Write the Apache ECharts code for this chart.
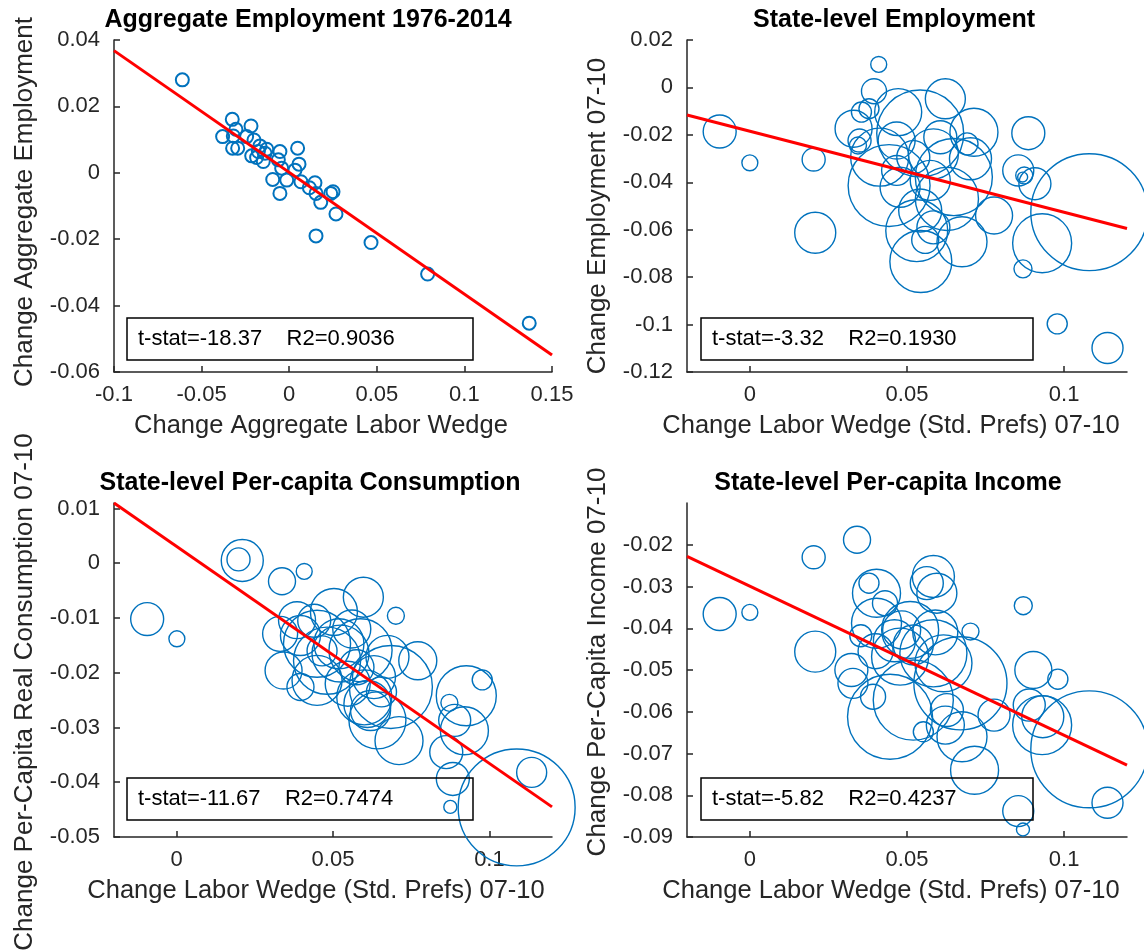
<!DOCTYPE html>
<html>
<head>
<meta charset="utf-8">
<title>Labor wedge panels</title>
<script src="https://cdn.jsdelivr.net/npm/echarts@6.0.0/dist/echarts.min.js"></script>
<style>
html, body { margin: 0; padding: 0; background: #fff; }
#main { width: 1144px; height: 952px; }
</style>
</head>
<body>
<div id="main"></div>
<script>
// panel 1: aggregate yearly changes 1976-2014
var aggWedge = [-0.061, 0.137, 0.079, 0.0467, 0.0153, 0.0267, 0.018, 0.025, 0.0237, 0.0147,
  0.0153, 0.0115, 0.0048, 0.0056, 0.0033, -0.0053, -0.0062, -0.0043, -0.0094, -0.0014,
  -0.0053, 0.0067, -0.0325, -0.0218, -0.0304, -0.038, -0.0319, -0.0243, -0.0323, -0.0294,
  -0.0201, -0.0167, -0.0128, -0.0214, -0.0186, -0.0148, -0.0176, -0.0138];
var aggEmp = [0.028, -0.0453, -0.0305, -0.021, -0.019, -0.0124, -0.0089, -0.0057, -0.0062, -0.003,
  -0.0062, -0.0045, 0.0074, 0.0026, 0.0008, 0.0064, 0.0039, 0.0014, -0.002, -0.0022,
  -0.0062, -0.0027, 0.0161, 0.0141, 0.0131, 0.0109, 0.0111, 0.0109, 0.0074, 0.0074,
  0.0099, 0.0081, 0.0071, 0.0051, 0.0046, 0.0034, 0.0064, 0.0059];

// panel 2: state employment 07-10 (weight = population, millions)
var empWedge = [0.041, -0.0096, 0, 0.0203, 0.0208, 0.0886, 0.0978, 0.1138, 0.0869, 0.108,
  0.093, 0.0907, 0.0854, 0.0873, 0.0868, 0.0395, 0.0379, 0.033, 0.0349, 0.0344,
  0.0472, 0.0622, 0.0542, 0.0713, 0.0691, 0.0443, 0.0413, 0.0649, 0.0531, 0.0544,
  0.0558, 0.0675, 0.0777, 0.0702, 0.0574, 0.0627, 0.0478, 0.052, 0.0606, 0.0584,
  0.0467, 0.0355, 0.0542, 0.0584, 0.0467];
var empChange = [0.0097, -0.0186, -0.0318, -0.0304, -0.0613, -0.0193, -0.0997, -0.1099, -0.0765, -0.0526,
  -0.0657, -0.0406, -0.035, -0.0371, -0.0378, -0.0016, -0.009, -0.0174, -0.0224, -0.0245,
  -0.0104, -0.0048, -0.0194, -0.0189, -0.0238, -0.0414, -0.0294, -0.0378, -0.0604, -0.0734,
  -0.0643, -0.0651, -0.054, -0.0301, -0.0392, -0.047, -0.0421, -0.0294, -0.021, -0.028,
  -0.035, -0.0104, -0.0519, -0.059, -0.0224];
var empWeight = [0.69, 2.95, 0.69, 1.44, 4.56, 2.95, 1.09, 2.61, 0.88, 37.1,
  9.44, 2.78, 2.61, 0.78, 0.27, 1.7, 1.09, 3.71, 1.44, 0.78,
  5.99, 4.34, 20.5, 6.25, 1.31, 18.2, 9.13, 16.1, 10.4, 10.4,
  1.98, 6.78, 3.71, 4.79, 4.34, 10.8, 4.34, 2.95, 2.95, 6.78,
  2.44, 1.09, 5.02, 2.95, 3.71];

// panel 3: state per-capita real consumption 07-10
var conWedge = [-0.0094, 0.0001, 0.021, 0.0198, 0.0337, 0.0408, 0.0701, 0.0597, 0.0503, 0.0396,
  0.0331, 0.0342, 0.0396, 0.0449, 0.0449, 0.0519, 0.0524, 0.0588, 0.0674, 0.0771,
  0.0685, 0.0631, 0.061, 0.062, 0.0642, 0.0711, 0.0926, 0.0977, 0.0872, 0.092,
  0.0862, 0.0883, 0.0875, 0.1135, 0.1087, 0.0385, 0.0481, 0.0889, 0.0547, 0.056,
  0.0465, 0.0575, 0.0655, 0.044, 0.06];
var conChange = [-0.0102, -0.0138, 0.0005, 0.0007, -0.0033, -0.0015, -0.0096, -0.0062, -0.0089, -0.0132,
  -0.0129, -0.0196, -0.0226, -0.0214, -0.0147, -0.0147, -0.0165, -0.0159, -0.0171, -0.0178,
  -0.0226, -0.0208, -0.0257, -0.0269, -0.0287, -0.0324, -0.0242, -0.0213, -0.0255, -0.0306,
  -0.0345, -0.0394, -0.0445, -0.0382, -0.0446, -0.0104, -0.0178, -0.0287, -0.022, -0.012,
  -0.016, -0.019, -0.0235, -0.0105, -0.0245];
var conWeight = [2.95, 0.69, 4.79, 1.44, 1.98, 0.69, 0.78, 4.34, 5.99, 4.34,
  3.32, 3.71, 1.98, 6.78, 12.2, 6.78, 8.81, 10.8, 5.02, 3.92,
  18.7, 5.02, 5.99, 4.34, 8.81, 6.25, 9.77, 1.09, 0.78, 6.25,
  2.95, 2.95, 0.46, 2.44, 37.1, 3.71, 12.2, 2.78, 5.49, 3.92,
  2.44, 3.32, 2.44, 2.95, 8.2];

// panel 4: state per-capita income 07-10
var incWedge = [-0.0096, 0, 0.0203, 0.0341, 0.0208, 0.087, 0.098, 0.1138, 0.0854, 0.0869,
  0.108, 0.093, 0.0902, 0.0889, 0.0932, 0.0777, 0.0715, 0.0702, 0.0584, 0.0595,
  0.0403, 0.0379, 0.043, 0.0403, 0.0353, 0.0323, 0.0328, 0.0392, 0.0446, 0.0483,
  0.051, 0.0478, 0.0584, 0.0616, 0.067, 0.0627, 0.0622, 0.0552, 0.0675, 0.0563,
  0.059, 0.052, 0.046, 0.04, 0.052];
var incChange = [-0.0366, -0.0362, -0.023, -0.0188, -0.0456, -0.0346, -0.0522, -0.0818, -0.0838, -0.0882,
  -0.069, -0.0632, -0.05, -0.0584, -0.0612, -0.0608, -0.074, -0.0408, -0.0276, -0.0316,
  -0.0316, -0.0292, -0.034, -0.0388, -0.0418, -0.05, -0.0532, -0.0564, -0.0612, -0.0404,
  -0.0404, -0.0468, -0.046, -0.0484, -0.0532, -0.0596, -0.0632, -0.0648, -0.066, -0.0292,
  -0.041, -0.044, -0.043, -0.0455, -0.0572];
var incWeight = [2.95, 0.69, 1.44, 1.98, 4.56, 0.88, 1.09, 2.61, 2.61, 0.46,
  37.1, 9.44, 3.71, 2.78, 4.79, 2.78, 6.25, 0.78, 4.79, 4.34,
  6.25, 1.09, 1.7, 6.78, 1.31, 2.95, 2.44, 1.7, 19.6, 3.92,
  8.81, 8.81, 12.2, 8.81, 23.5, 2.95, 3.92, 1.09, 6.78, 2.95,
  5.49, 4.34, 4.79, 3.32, 17.4];

// fitted lines (end points) and regression stats
var fitX = [[-0.1, 0.15], [-0.02, 0.12], [-0.02, 0.12], [-0.02, 0.12]];
var fitY = [[0.0368, -0.0549], [-0.0116, -0.0595], [0.011, -0.0445], [-0.0228, -0.0728]];
var tStat = [-18.37, -3.32, -11.67, -5.82];
var rSq = [0.9036, 0.1930, 0.7474, 0.4237];

// axis ticks
var xTicks1 = [-0.1, -0.05, 0, 0.05, 0.1, 0.15];
var xTicksState = [0, 0.05, 0.1];
var yTicks1 = [-0.06, -0.04, -0.02, 0, 0.02, 0.04];
var yTicks2 = [-0.12, -0.1, -0.08, -0.06, -0.04, -0.02, 0, 0.02];
var yTicks3 = [-0.05, -0.04, -0.03, -0.02, -0.01, 0, 0.01];
var yTicks4 = [-0.09, -0.08, -0.07, -0.06, -0.05, -0.04, -0.03, -0.02];

var titles = ['Aggregate Employment 1976-2014', 'State-level Employment',
  'State-level Per-capita Consumption', 'State-level Per-capita Income'];
var xNames = ['Change Aggregate Labor Wedge', 'Change Labor Wedge (Std. Prefs) 07-10',
  'Change Labor Wedge (Std. Prefs) 07-10', 'Change Labor Wedge (Std. Prefs) 07-10'];
var yNames = ['Change Aggregate Employment', 'Change Employment 07-10',
  'Change Per-Capita Real Consumption 07-10', 'Change Per-Capita Income 07-10'];

var AX = '#262626';
var FONT = '"Liberation Sans", Arial, sans-serif';
var BLUE = '#0072BD';

function zip(a, b, c) {
  return a.map(function (v, i) { return c ? [v, b[i], c[i]] : [v, b[i]]; });
}

var grids = [
  { left: 114, top: 40, width: 438, height: 332 },
  { left: 687, top: 40, width: 440, height: 332 },
  { left: 114, top: 503, width: 438, height: 334 },
  { left: 687, top: 503, width: 440, height: 334 }
];

function xAxis(i, min, max, ticks, shift) {
  return {
    type: 'value', gridIndex: i, min: min, max: max,
    axisLine: { show: true, onZero: false, lineStyle: { color: AX, width: 1.5 } },
    axisTick: { show: true, inside: true, length: 6, customValues: ticks, lineStyle: { color: AX, width: 1.5 } },
    axisLabel: { customValues: ticks, margin: 12, fontSize: 22, color: AX, fontFamily: FONT,
      formatter: function (v) { return String(v); } },
    splitLine: { show: false },
    name: xNames[i], nameLocation: 'middle', nameGap: 41,
    nameTextStyle: { fontSize: 25.5, color: AX, fontFamily: FONT, padding: [0, 2 * shift, 0, 0] }
  };
}

// shift > 0 moves the rotated name down, < 0 up
function yAxis(i, min, max, ticks, shift) {
  var pad = shift >= 0 ? [0, 2 * shift, 0, 0] : [0, 0, 0, -2 * shift];
  return {
    type: 'value', gridIndex: i, min: min, max: max,
    axisLine: { show: true, onZero: false, lineStyle: { color: AX, width: 1.5 } },
    axisTick: { show: true, inside: true, length: 6, customValues: ticks, lineStyle: { color: AX, width: 1.5 } },
    axisLabel: { customValues: ticks, margin: 14, fontSize: 22, color: AX, fontFamily: FONT,
      formatter: function (v) { return String(v); } },
    splitLine: { show: false },
    name: yNames[i], nameLocation: 'middle', nameGap: 76,
    nameTextStyle: { fontSize: 26, color: AX, fontFamily: FONT, padding: pad }
  };
}

function bubbles(i, xs, ys, ws) {
  return {
    type: 'scatter', xAxisIndex: i, yAxisIndex: i, clip: false,
    data: zip(xs, ys, ws),
    symbol: 'circle',
    symbolSize: function (v) { return 19.2 * Math.sqrt(v[2]); },
    itemStyle: { color: 'rgba(0,0,0,0)', borderColor: BLUE, borderWidth: 1.4, opacity: 1 },
    silent: true, z: 2
  };
}

function fitLine(i) {
  return {
    type: 'line', xAxisIndex: i, yAxisIndex: i,
    data: zip(fitX[i], fitY[i]), symbol: 'none',
    lineStyle: { color: '#FF0000', width: 3 }, silent: true, z: 3
  };
}

var titlePos = [[308, 20], [894, 20], [310, 483], [888, 483]];
var boxPos = [[127, 318, 346], [701, 318, 332], [127, 778, 346], [701, 778, 332]];
var graphics = [];
titles.forEach(function (t, i) {
  graphics.push({
    type: 'text', x: titlePos[i][0], y: titlePos[i][1], silent: true,
    style: { text: t, font: 'bold 25px ' + FONT, fill: '#000',
      align: 'center', verticalAlign: 'middle', textAlign: 'center', textVerticalAlign: 'middle' }
  });
});
boxPos.forEach(function (b, i) {
  graphics.push({
    type: 'rect', silent: true, z: 10,
    shape: { x: b[0], y: b[1], width: b[2], height: 42 },
    style: { fill: 'rgba(0,0,0,0)', stroke: '#000', lineWidth: 1.5 }
  });
  graphics.push({
    type: 'text', x: b[0] + 11, y: b[1] + 21, silent: true, z: 10,
    style: { text: 't-stat=' + tStat[i].toFixed(2) + '    R2=' + rSq[i].toFixed(4),
      font: '22px ' + FONT, fill: '#000',
      align: 'left', verticalAlign: 'middle', textAlign: 'left', textVerticalAlign: 'middle' }
  });
});

var chart = echarts.init(document.getElementById('main'), null, { renderer: 'canvas' });
chart.setOption({
  animation: false,
  backgroundColor: '#fff',
  grid: grids.map(function (g) { return Object.assign({ containLabel: false, outerBoundsMode: 'none' }, g); }),
  xAxis: [
    xAxis(0, -0.1, 0.15, xTicks1, 12),
    xAxis(1, -0.02, 0.12, xTicksState, 16),
    xAxis(2, -0.02, 0.12, xTicksState, 17),
    xAxis(3, -0.02, 0.12, xTicksState, 16)
  ],
  yAxis: [
    yAxis(0, -0.06, 0.04, yTicks1, -4),
    yAxis(1, -0.12, 0.02, yTicks2, 10),
    yAxis(2, -0.05, 0.011, yTicks3, 22),
    yAxis(3, -0.09, -0.01, yTicks4, -8)
  ],
  series: [
    {
      type: 'scatter', xAxisIndex: 0, yAxisIndex: 0, clip: false,
      data: zip(aggWedge, aggEmp), symbol: 'circle', symbolSize: 13,
      itemStyle: { color: 'rgba(0,0,0,0)', borderColor: BLUE, borderWidth: 2, opacity: 1 },
      silent: true, z: 2
    },
    fitLine(0),
    bubbles(1, empWedge, empChange, empWeight),
    fitLine(1),
    bubbles(2, conWedge, conChange, conWeight),
    fitLine(2),
    bubbles(3, incWedge, incChange, incWeight),
    fitLine(3)
  ],
  graphic: graphics
});
</script>
</body>
</html>
